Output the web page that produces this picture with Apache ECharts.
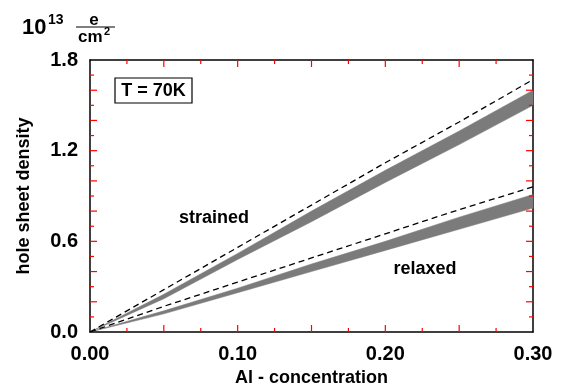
<!DOCTYPE html>
<html>
<head>
<meta charset="utf-8">
<script src="https://cdn.jsdelivr.net/npm/echarts@6/dist/echarts.min.js"></script>
<style>
  html, body { margin: 0; padding: 0; background: #fff; }
  #chart { width: 562px; height: 386px; }
</style>
</head>
<body>
<div id="chart"></div>
<script>
// Al concentration (x) and hole sheet density in 1e13 e/cm^2
const alConc = [0, 0.05, 0.10, 0.15, 0.20, 0.25, 0.30];

const strainedDashed = [0, 0.28, 0.56, 0.84, 1.12, 1.39, 1.67];
const strainedTop    = [0, 0.25, 0.52, 0.80, 1.07, 1.33, 1.60];
const strainedBottom = [0, 0.22, 0.48, 0.73, 0.99, 1.24, 1.50];

const relaxedDashed = [0, 0.17, 0.33, 0.49, 0.65, 0.81, 0.96];
const relaxedTop    = [0, 0.14, 0.29, 0.45, 0.60, 0.76, 0.91];
const relaxedBottom = [0, 0.12, 0.26, 0.40, 0.54, 0.68, 0.82];

const xLabels = [0, 0.1, 0.2, 0.3];
const yLabels = [0, 0.6, 1.2, 1.8];

// inward ticks on all four sides
const xMajorTicks = [0.05, 0.10, 0.15, 0.20, 0.25];
const xMinorTicks = [0.025, 0.075, 0.125, 0.175, 0.225, 0.275];
const yMajorTicks = [0.2, 0.4, 0.6, 0.8, 1.0, 1.2, 1.4, 1.6];
const yMinorTicks = [0.1, 0.3, 0.5, 0.7, 0.9, 1.1, 1.3, 1.5, 1.7];

const chart = echarts.init(document.getElementById('chart'));

const font = 'Liberation Sans, Arial, sans-serif';
const bandColor = '#7b7b7b';
const tickColor = '#ff0000';

function pairs(ys) {
  return alConc.map((x, i) => [x, ys[i]]);
}
function near(v, list) {
  return list.some(l => Math.abs(l - v) < 1e-6);
}

const lineOn = { show: true, onZero: false, lineStyle: { color: '#000', width: 1.5 } };

// shaded band between two curves, drawn as one polygon through the axes
function band(top, bottom, name) {
  return {
    name: name, type: 'custom', silent: true, z: 2,
    data: alConc.map((x, i) => [x, top[i], bottom[i]]),
    renderItem: (params, api) => {
      if (params.dataIndex !== 0) return null;
      const pts = [];
      for (let i = 0; i < alConc.length; i++) pts.push(api.coord([alConc[i], top[i]]));
      for (let i = alConc.length - 1; i >= 0; i--) pts.push(api.coord([alConc[i], bottom[i]]));
      return {
        type: 'polygon', shape: { points: pts },
        style: { fill: bandColor, stroke: bandColor, lineWidth: 0.5 }
      };
    },
    encode: { x: 0, y: 1 }
  };
}

function dashed(ys, name) {
  return {
    name: name, type: 'line', data: pairs(ys), symbol: 'none', z: 5,
    lineStyle: { color: '#000', width: 1.3, type: [6, 4] }, silent: true
  };
}

const staticGraphics = [
  {
    type: 'text', x: 22, y: 28,
    style: { text: '10', fontFamily: font, fontWeight: 'bold', fontSize: 22, fill: '#000', verticalAlign: 'middle' }
  },
  {
    type: 'text', x: 48, y: 20,
    style: { text: '13', fontFamily: font, fontWeight: 'bold', fontSize: 14, fill: '#000', verticalAlign: 'middle' }
  },
  {
    type: 'text', x: 94, y: 20,
    style: { text: 'e', fontFamily: font, fontWeight: 'bold', fontSize: 17, fill: '#000', align: 'center', verticalAlign: 'middle' }
  },
  {
    type: 'line', shape: { x1: 76, y1: 27, x2: 115, y2: 27 },
    style: { stroke: '#000', lineWidth: 1.2 }
  },
  {
    type: 'text', x: 78, y: 37,
    style: { text: 'cm', fontFamily: font, fontWeight: 'bold', fontSize: 17, fill: '#000', verticalAlign: 'middle' }
  },
  {
    type: 'text', x: 104, y: 32,
    style: { text: '2', fontFamily: font, fontWeight: 'bold', fontSize: 11, fill: '#000', verticalAlign: 'middle' }
  },
  {
    type: 'rect', shape: { x: 115, y: 78, width: 77, height: 25 },
    style: { fill: '#fff', stroke: '#000', lineWidth: 1.2 }, z: 10
  },
  {
    type: 'text', x: 153.5, y: 91, z: 11,
    style: { text: 'T = 70K', fontFamily: font, fontWeight: 'bold', fontSize: 18, fill: '#000', align: 'center', verticalAlign: 'middle' }
  },
  {
    type: 'text', x: 214, y: 218,
    style: { text: 'strained', fontFamily: font, fontWeight: 'bold', fontSize: 18, fill: '#000', align: 'center', verticalAlign: 'middle' }
  },
  {
    type: 'text', x: 425, y: 269,
    style: { text: 'relaxed', fontFamily: font, fontWeight: 'bold', fontSize: 18, fill: '#000', align: 'center', verticalAlign: 'middle' }
  }
];

const option = {
  animation: false,
  grid: { left: 90, right: 29, top: 60, bottom: 54, outerBoundsMode: 'none' },
  xAxis: [
    {
      type: 'value', min: 0, max: 0.3, interval: 0.05, position: 'bottom',
      axisLine: lineOn, axisTick: { show: false }, splitLine: { show: false },
      name: 'Al - concentration', nameLocation: 'middle', nameGap: 36,
      nameTextStyle: { fontFamily: font, fontWeight: 'bold', fontSize: 18, color: '#000' },
      axisLabel: {
        margin: 12, fontFamily: font, fontWeight: 'bold', fontSize: 20, color: '#000',
        formatter: v => near(v, xLabels) ? v.toFixed(2) : ''
      }
    },
    {
      type: 'value', min: 0, max: 0.3, position: 'top',
      axisLine: lineOn, axisTick: { show: false }, axisLabel: { show: false }, splitLine: { show: false }
    }
  ],
  yAxis: [
    {
      type: 'value', min: 0, max: 1.8, interval: 0.2, position: 'left',
      axisLine: lineOn, axisTick: { show: false }, splitLine: { show: false },
      name: 'hole sheet density', nameLocation: 'middle', nameGap: 57,
      nameTextStyle: { fontFamily: font, fontWeight: 'bold', fontSize: 18, color: '#000' },
      axisLabel: {
        margin: 12, fontFamily: font, fontWeight: 'bold', fontSize: 20, color: '#000',
        formatter: v => near(v, yLabels) ? v.toFixed(1) : ''
      }
    },
    {
      type: 'value', min: 0, max: 1.8, position: 'right',
      axisLine: lineOn, axisTick: { show: false }, axisLabel: { show: false }, splitLine: { show: false }
    }
  ],
  series: [
    band(strainedTop, strainedBottom, 'strained'),
    band(relaxedTop, relaxedBottom, 'relaxed'),
    dashed(strainedDashed, 'strained-dashed'),
    dashed(relaxedDashed, 'relaxed-dashed')
  ],
  graphic: staticGraphics
};

chart.setOption(option);

// inward tick marks, positioned through the axis scales once the grid is laid out
const tickMarks = [];
function addTicks(values, len, horizontal) {
  values.forEach(v => {
    if (horizontal) {
      const a = chart.convertToPixel({ gridIndex: 0 }, [v, 0]);
      const b = chart.convertToPixel({ gridIndex: 0 }, [v, 1.8]);
      tickMarks.push({ type: 'line', z: 20, shape: { x1: a[0], y1: a[1], x2: a[0], y2: a[1] - len }, style: { stroke: tickColor, lineWidth: 1.2 } });
      tickMarks.push({ type: 'line', z: 20, shape: { x1: b[0], y1: b[1], x2: b[0], y2: b[1] + len }, style: { stroke: tickColor, lineWidth: 1.2 } });
    } else {
      const a = chart.convertToPixel({ gridIndex: 0 }, [0, v]);
      const b = chart.convertToPixel({ gridIndex: 0 }, [0.3, v]);
      tickMarks.push({ type: 'line', z: 20, shape: { x1: a[0], y1: a[1], x2: a[0] + len, y2: a[1] }, style: { stroke: tickColor, lineWidth: 1.2 } });
      tickMarks.push({ type: 'line', z: 20, shape: { x1: b[0], y1: b[1], x2: b[0] - len, y2: b[1] }, style: { stroke: tickColor, lineWidth: 1.2 } });
    }
  });
}
addTicks(xMajorTicks, 7, true);
addTicks(xMinorTicks, 4, true);
addTicks(yMajorTicks, 7, false);
addTicks(yMinorTicks, 4, false);

chart.setOption({ graphic: staticGraphics.concat(tickMarks) });
</script>
</body>
</html>
